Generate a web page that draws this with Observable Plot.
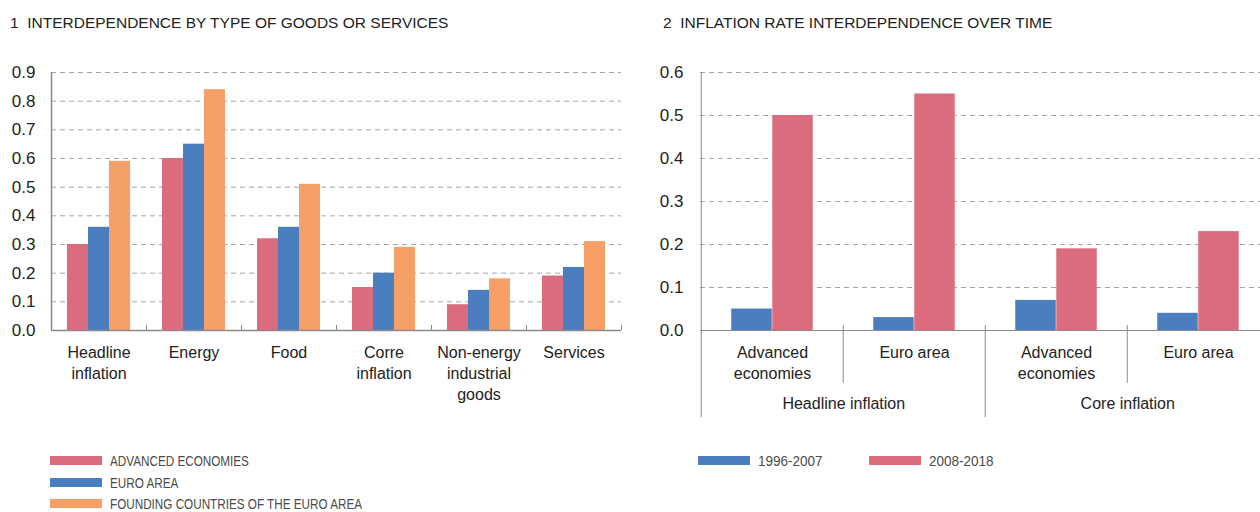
<!DOCTYPE html>
<html><head><meta charset="utf-8">
<script src="https://cdn.jsdelivr.net/npm/d3@7"></script>
<script src="https://cdn.jsdelivr.net/npm/@observablehq/plot@0.6"></script>
<style>
html,body{margin:0;padding:0;width:1260px;height:512px;overflow:hidden;background:#fff;font-family:"Liberation Sans",Arial,sans-serif;}
#root{position:relative;width:1260px;height:512px;overflow:hidden;}
.title{position:absolute;top:14px;font-size:15.5px;color:#222;white-space:pre;}
.chart{position:absolute;top:60px;width:640px;}
.chart svg{overflow:visible;max-width:none !important;}
.legend{position:absolute;font-family:"Liberation Sans",Arial,sans-serif;font-size:15px;color:#4a4a4a;}
.item{display:flex;align-items:center;height:21.5px;white-space:nowrap;}
.sw{width:52px;height:9px;margin-right:8px;flex:none;}
.lt{display:inline-block;transform:scaleX(0.78);transform-origin:left center;}
#l2 .lt{transform:scaleX(0.9);}
</style></head><body>
<div id="root">
  <div class="title" style="left:10px">1  INTERDEPENDENCE BY TYPE OF GOODS OR SERVICES</div>
  <div class="title" style="left:663px">2  INFLATION RATE INTERDEPENDENCE OVER TIME</div>
  <div class="chart" id="c1" style="left:0px"></div>
  <div class="chart" id="c2" style="left:640px"></div>
  <div class="legend" id="l1" style="left:50px;top:450px"></div>
  <div class="legend" id="l2" style="left:698px;top:450px;display:flex"></div>
</div>
<script>
// ---- Chart 1 data ----
const categories1 = ["Headline\ninflation", "Energy", "Food", "Corre\ninflation", "Non-energy\nindustrial\ngoods", "Services"];
const series1 = ["ADVANCED ECONOMIES", "EURO AREA", "FOUNDING COUNTRIES OF THE EURO AREA"];
const advanced1 = [0.30, 0.60, 0.32, 0.15, 0.09, 0.19];
const euroArea1 = [0.36, 0.65, 0.36, 0.20, 0.14, 0.22];
const founding1 = [0.59, 0.84, 0.51, 0.29, 0.18, 0.31];
const yTicks1 = [0, 0.1, 0.2, 0.3, 0.4, 0.5, 0.6, 0.7, 0.8, 0.9];
const colors1 = ["#db6c7d", "#4a7ebf", "#f69f66"];

// ---- Chart 2 data ----
const groups2 = ["Headline inflation", "Core inflation"];
const subcats2 = ["Advanced\neconomies", "Euro area", "Advanced\neconomies", "Euro area"];
const subGroup2 = ["Headline inflation", "Headline inflation", "Core inflation", "Core inflation"];
const series2 = ["1996-2007", "2008-2018"];
const early2 = [0.05, 0.03, 0.07, 0.04];
const late2 = [0.50, 0.55, 0.19, 0.23];
const yTicks2 = [0, 0.1, 0.2, 0.3, 0.4, 0.5, 0.6];
const colors2 = ["#4a7ebf", "#db6c7d"];

const FONT = "'Liberation Sans', Arial, sans-serif";
const GRID = "#a5a5a5";
const AXIS = "#8a8a8a";
const MT = 12, PLOTH = 258, MB = 100;

// ---- Chart 1 ----
{
  const W = 631, ML = 51, MR = 10;
  const band = (W - ML - MR) / categories1.length;
  const barW = 21;
  const values = [advanced1, euroArea1, founding1];
  const rows = categories1.flatMap((c, i) => values.map((arr, k) => ({cat: c, k, v: arr[i]})));
  const inset = (band - barW) / 2;
  const chart = Plot.plot({
    width: W, height: MT + PLOTH + MB,
    marginLeft: ML, marginRight: MR, marginTop: MT, marginBottom: MB,
    style: {fontFamily: FONT, fontSize: "16px", color: "#222", background: "transparent", overflow: "visible"},
    x: {domain: categories1, padding: 0, axis: null},
    y: {domain: [0, 0.9], axis: null},
    marks: [
      Plot.gridY(yTicks1, {stroke: GRID, strokeOpacity: 1, strokeDasharray: "5,4"}),
      ...values.map((arr, k) => Plot.barY(rows.filter(r => r.k === k), {
        x: "cat", y: "v", fill: colors1[k], insetLeft: inset, insetRight: inset, dx: (k - 1) * barW
      })),
      Plot.axisY(yTicks1, {label: null, tickSize: 0, tickPadding: 16, tickFormat: d3.format(".1f"), fontSize: 17, fill: "#222"}),
      Plot.ruleX([categories1[0]], {dx: -band / 2, y1: 0.9, y2: 0, stroke: AXIS, strokeWidth: 1.5}),
      Plot.ruleY([0], {stroke: AXIS, strokeWidth: 1.5}),
      Plot.ruleX(categories1, {dx: band / 2, y1: 0, y2: 0, insetBottom: 5, stroke: AXIS, strokeWidth: 1}),
      Plot.text(categories1, {x: d => d, text: d => d, frameAnchor: "bottom", lineAnchor: "top", dy: 13, fontSize: 16, lineHeight: 1.3, fill: "#222"})
    ]
  });
  document.getElementById("c1").append(chart);
}

// ---- Chart 2 ----
{
  const W = 640, ML = 60, MR = 10;
  const idx = subcats2.map((_, i) => i);
  const band = (W - ML - MR) / idx.length;
  const barW = 41;
  const inset = (band - barW) / 2;
  const values = [early2, late2];
  const rows = idx.flatMap(i => values.map((arr, k) => ({i, k, v: arr[i]})));
  const groupFirst = groups2.map(g => subGroup2.indexOf(g));
  const withinGroup = idx.filter(i => i > 0 && subGroup2[i] === subGroup2[i - 1]);
  const betweenGroups = idx.filter(i => i > 0 && subGroup2[i] !== subGroup2[i - 1]);
  const chart = Plot.plot({
    width: W, height: MT + PLOTH + MB,
    marginLeft: ML, marginRight: MR, marginTop: MT, marginBottom: MB,
    style: {fontFamily: FONT, fontSize: "16px", color: "#222", background: "transparent", overflow: "visible"},
    x: {domain: idx, padding: 0, axis: null},
    y: {domain: [0, 0.6], axis: null},
    marks: [
      Plot.gridY(yTicks2, {stroke: GRID, strokeOpacity: 1, strokeDasharray: "5,4"}),
      ...values.map((arr, k) => Plot.barY(rows.filter(r => r.k === k), {
        x: "i", y: "v", fill: colors2[k], insetLeft: inset, insetRight: inset, dx: (k - 0.5) * barW
      })),
      Plot.axisY(yTicks2, {label: null, tickSize: 0, tickPadding: 17, tickFormat: d3.format(".1f"), fontSize: 17, fill: "#222"}),
      Plot.ruleY([0], {stroke: AXIS, strokeWidth: 1}),
      Plot.ruleX([0], {dx: -band / 2, y1: 0.6, y2: 0, insetBottom: -87, stroke: AXIS, strokeWidth: 1}),
      Plot.ruleX(withinGroup, {dx: -band / 2, y1: 0, y2: 0, insetTop: 53, insetBottom: 5, stroke: AXIS, strokeWidth: 1}),
      Plot.ruleX(betweenGroups, {dx: -band / 2, y1: 0, y2: 0, insetTop: 87, insetBottom: 5, stroke: AXIS, strokeWidth: 1}),
      Plot.text(subcats2, {x: (d, i) => i, text: d => d, frameAnchor: "bottom", lineAnchor: "top", dy: 13, fontSize: 16, lineHeight: 1.3, fill: "#222"}),
      Plot.text(groups2, {x: (d, j) => groupFirst[j], text: d => d, dx: band / 2, frameAnchor: "bottom", lineAnchor: "top", dy: 67, fontSize: 16, fill: "#222"})
    ]
  });
  document.getElementById("c2").append(chart);
}

// ---- Legends ----
function legend(el, names, colors, widths) {
  names.forEach((n, k) => {
    const item = document.createElement("div");
    item.className = "item";
    if (widths) item.style.width = widths[k] + "px";
    const sw = document.createElement("div");
    sw.className = "sw";
    sw.style.background = colors[k];
    const t = document.createElement("span");
    t.className = "lt";
    t.textContent = n;
    item.append(sw, t);
    el.append(item);
  });
}
legend(document.getElementById("l1"), series1, colors1);
legend(document.getElementById("l2"), series2, colors2, [171, 140]);
</script>
</body></html>
